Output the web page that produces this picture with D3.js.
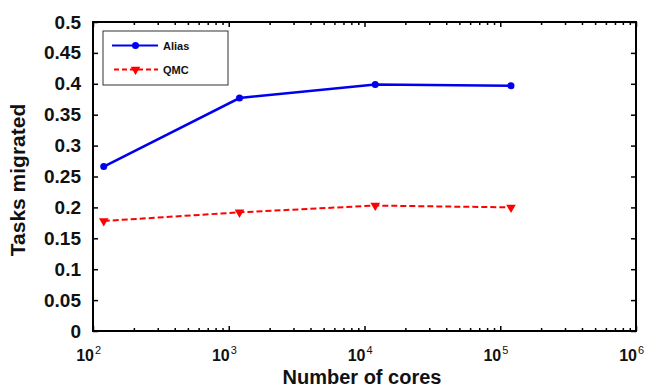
<!DOCTYPE html>
<html>
<head>
<meta charset="utf-8">
<script src="https://cdn.jsdelivr.net/npm/d3@7"></script>
<style>
  body { margin: 0; background: #fff; }
  svg { font-family: "Liberation Sans", Arial, sans-serif; }
</style>
</head>
<body>
<svg id="chart"></svg>
<script>
const width = 654;
const height = 387;
const margin = { top: 22, right: 18, bottom: 56, left: 93 };

const cores = [120, 1200, 12000, 120000];
const alias = [0.266, 0.377, 0.399, 0.397];
const qmc = [0.178, 0.192, 0.203, 0.2];
const yTicks = [0, 0.05, 0.1, 0.15, 0.2, 0.25, 0.3, 0.35, 0.4, 0.45, 0.5];
const xTicks = [1e2, 1e3, 1e4, 1e5, 1e6];

const x = d3.scaleLog().domain([1e2, 1e6]).range([margin.left, width - margin.right]);
const y = d3.scaleLinear().domain([0, 0.5]).range([height - margin.bottom, margin.top]);

const svg = d3.select("#chart").attr("width", width).attr("height", height);

// minor ticks for log axis
const minor = [];
for (let e = 2; e < 6; e++) for (let m = 2; m <= 9; m++) minor.push(m * Math.pow(10, e));

const plotBottom = height - margin.bottom;
const plotTop = margin.top;
const plotRight = width - margin.right;

// ticks pointing inward
svg.append("g").attr("transform", `translate(0,${plotBottom})`)
  .call(d3.axisBottom(x).tickValues(xTicks).tickSizeInner(-5).tickSizeOuter(0).tickFormat(""));
svg.append("g").attr("transform", `translate(0,${plotBottom})`)
  .call(d3.axisBottom(x).tickValues(minor).tickSizeInner(-3).tickSizeOuter(0).tickFormat(""));
svg.append("g").attr("transform", `translate(0,${plotTop})`)
  .call(d3.axisTop(x).tickValues(xTicks).tickSizeInner(-5).tickSizeOuter(0).tickFormat(""));
svg.append("g").attr("transform", `translate(0,${plotTop})`)
  .call(d3.axisTop(x).tickValues(minor).tickSizeInner(-3).tickSizeOuter(0).tickFormat(""));
svg.append("g").attr("transform", `translate(${margin.left},0)`)
  .call(d3.axisLeft(y).tickValues(yTicks).tickSizeInner(-5).tickSizeOuter(0).tickFormat(""));
svg.append("g").attr("transform", `translate(${plotRight},0)`)
  .call(d3.axisRight(y).tickValues(yTicks).tickSizeInner(-5).tickSizeOuter(0).tickFormat(""));

svg.selectAll(".domain").remove();
svg.selectAll(".tick line").attr("stroke", "#000").attr("stroke-width", 1.5);

// box
svg.append("rect")
  .attr("x", margin.left).attr("y", plotTop)
  .attr("width", plotRight - margin.left)
  .attr("height", plotBottom - plotTop)
  .attr("fill", "none").attr("stroke", "#000").attr("stroke-width", 2);

// y tick labels
svg.append("g").selectAll("text").data(yTicks).join("text")
  .attr("x", margin.left - 12)
  .attr("y", d => y(d) + 6.5)
  .attr("text-anchor", "end")
  .attr("font-size", 19)
  .attr("font-weight", "bold")
  .attr("fill", "#111")
  .text(d => d3.format("")(d));

// x tick labels (10^n)
const xl = svg.append("g").selectAll("g").data(xTicks).join("g");
xl.append("text")
  .attr("x", d => x(d) + 1)
  .attr("y", plotBottom + 30)
  .attr("text-anchor", "end")
  .attr("font-size", 16)
  .attr("font-weight", "bold")
  .attr("fill", "#111")
  .text("10");
xl.append("text")
  .attr("x", d => x(d) + 2)
  .attr("y", plotBottom + 23)
  .attr("font-size", 11)
  .attr("fill", "#111")
  .text(d => Math.round(Math.log10(d)));

// axis titles
svg.append("text")
  .attr("x", 362)
  .attr("y", height - 3)
  .attr("text-anchor", "middle")
  .attr("font-size", 20)
  .attr("font-weight", "bold")
  .attr("fill", "#111")
  .text("Number of cores");

svg.append("text")
  .attr("transform", `translate(25,180) rotate(-90)`)
  .attr("text-anchor", "middle")
  .attr("font-size", 21)
  .attr("font-weight", "bold")
  .attr("fill", "#111")
  .text("Tasks migrated");

// lines
const line = d3.line().x(d => x(d[0])).y(d => y(d[1]));
const aliasData = cores.map((c, i) => [c, alias[i]]);
const qmcData = cores.map((c, i) => [c, qmc[i]]);

svg.append("path").datum(aliasData).attr("d", line)
  .attr("fill", "none").attr("stroke", "#0000ee").attr("stroke-width", 2.5);
svg.append("g").selectAll("circle").data(aliasData).join("circle")
  .attr("cx", d => x(d[0])).attr("cy", d => y(d[1])).attr("r", 3.5).attr("fill", "#0000ee");

svg.append("path").datum(qmcData).attr("d", line)
  .attr("fill", "none").attr("stroke", "#ff0000").attr("stroke-width", 2)
  .attr("stroke-dasharray", "6,3");
const tri = d3.symbol().type(d3.symbolTriangle).size(40);
svg.append("g").selectAll("path").data(qmcData).join("path")
  .attr("d", tri)
  .attr("transform", d => `translate(${x(d[0])},${y(d[1])}) rotate(180)`)
  .attr("fill", "#ff0000");

// legend
const lg = svg.append("g");
lg.append("rect").attr("x", 103).attr("y", 31).attr("width", 125).attr("height", 54)
  .attr("fill", "#fff").attr("stroke", "#333").attr("stroke-width", 1);
lg.append("line").attr("x1", 112).attr("x2", 158).attr("y1", 45.5).attr("y2", 45.5)
  .attr("stroke", "#0000ee").attr("stroke-width", 2);
lg.append("circle").attr("cx", 135.5).attr("cy", 45.5).attr("r", 3.5).attr("fill", "#0000ee");
lg.append("line").attr("x1", 114).attr("x2", 158).attr("y1", 69.5).attr("y2", 69.5)
  .attr("stroke", "#ff0000").attr("stroke-width", 2).attr("stroke-dasharray", "5,3");
lg.append("path").attr("d", tri).attr("transform", "translate(135.5,69.5) rotate(180)").attr("fill", "#ff0000");
lg.append("text").attr("x", 163).attr("y", 49.5).attr("font-size", 11).attr("font-weight", "bold")
  .attr("fill", "#111").text("Alias");
lg.append("text").attr("x", 163).attr("y", 73.5).attr("font-size", 11).attr("font-weight", "bold")
  .attr("fill", "#111").text("QMC");
</script>
</body>
</html>
